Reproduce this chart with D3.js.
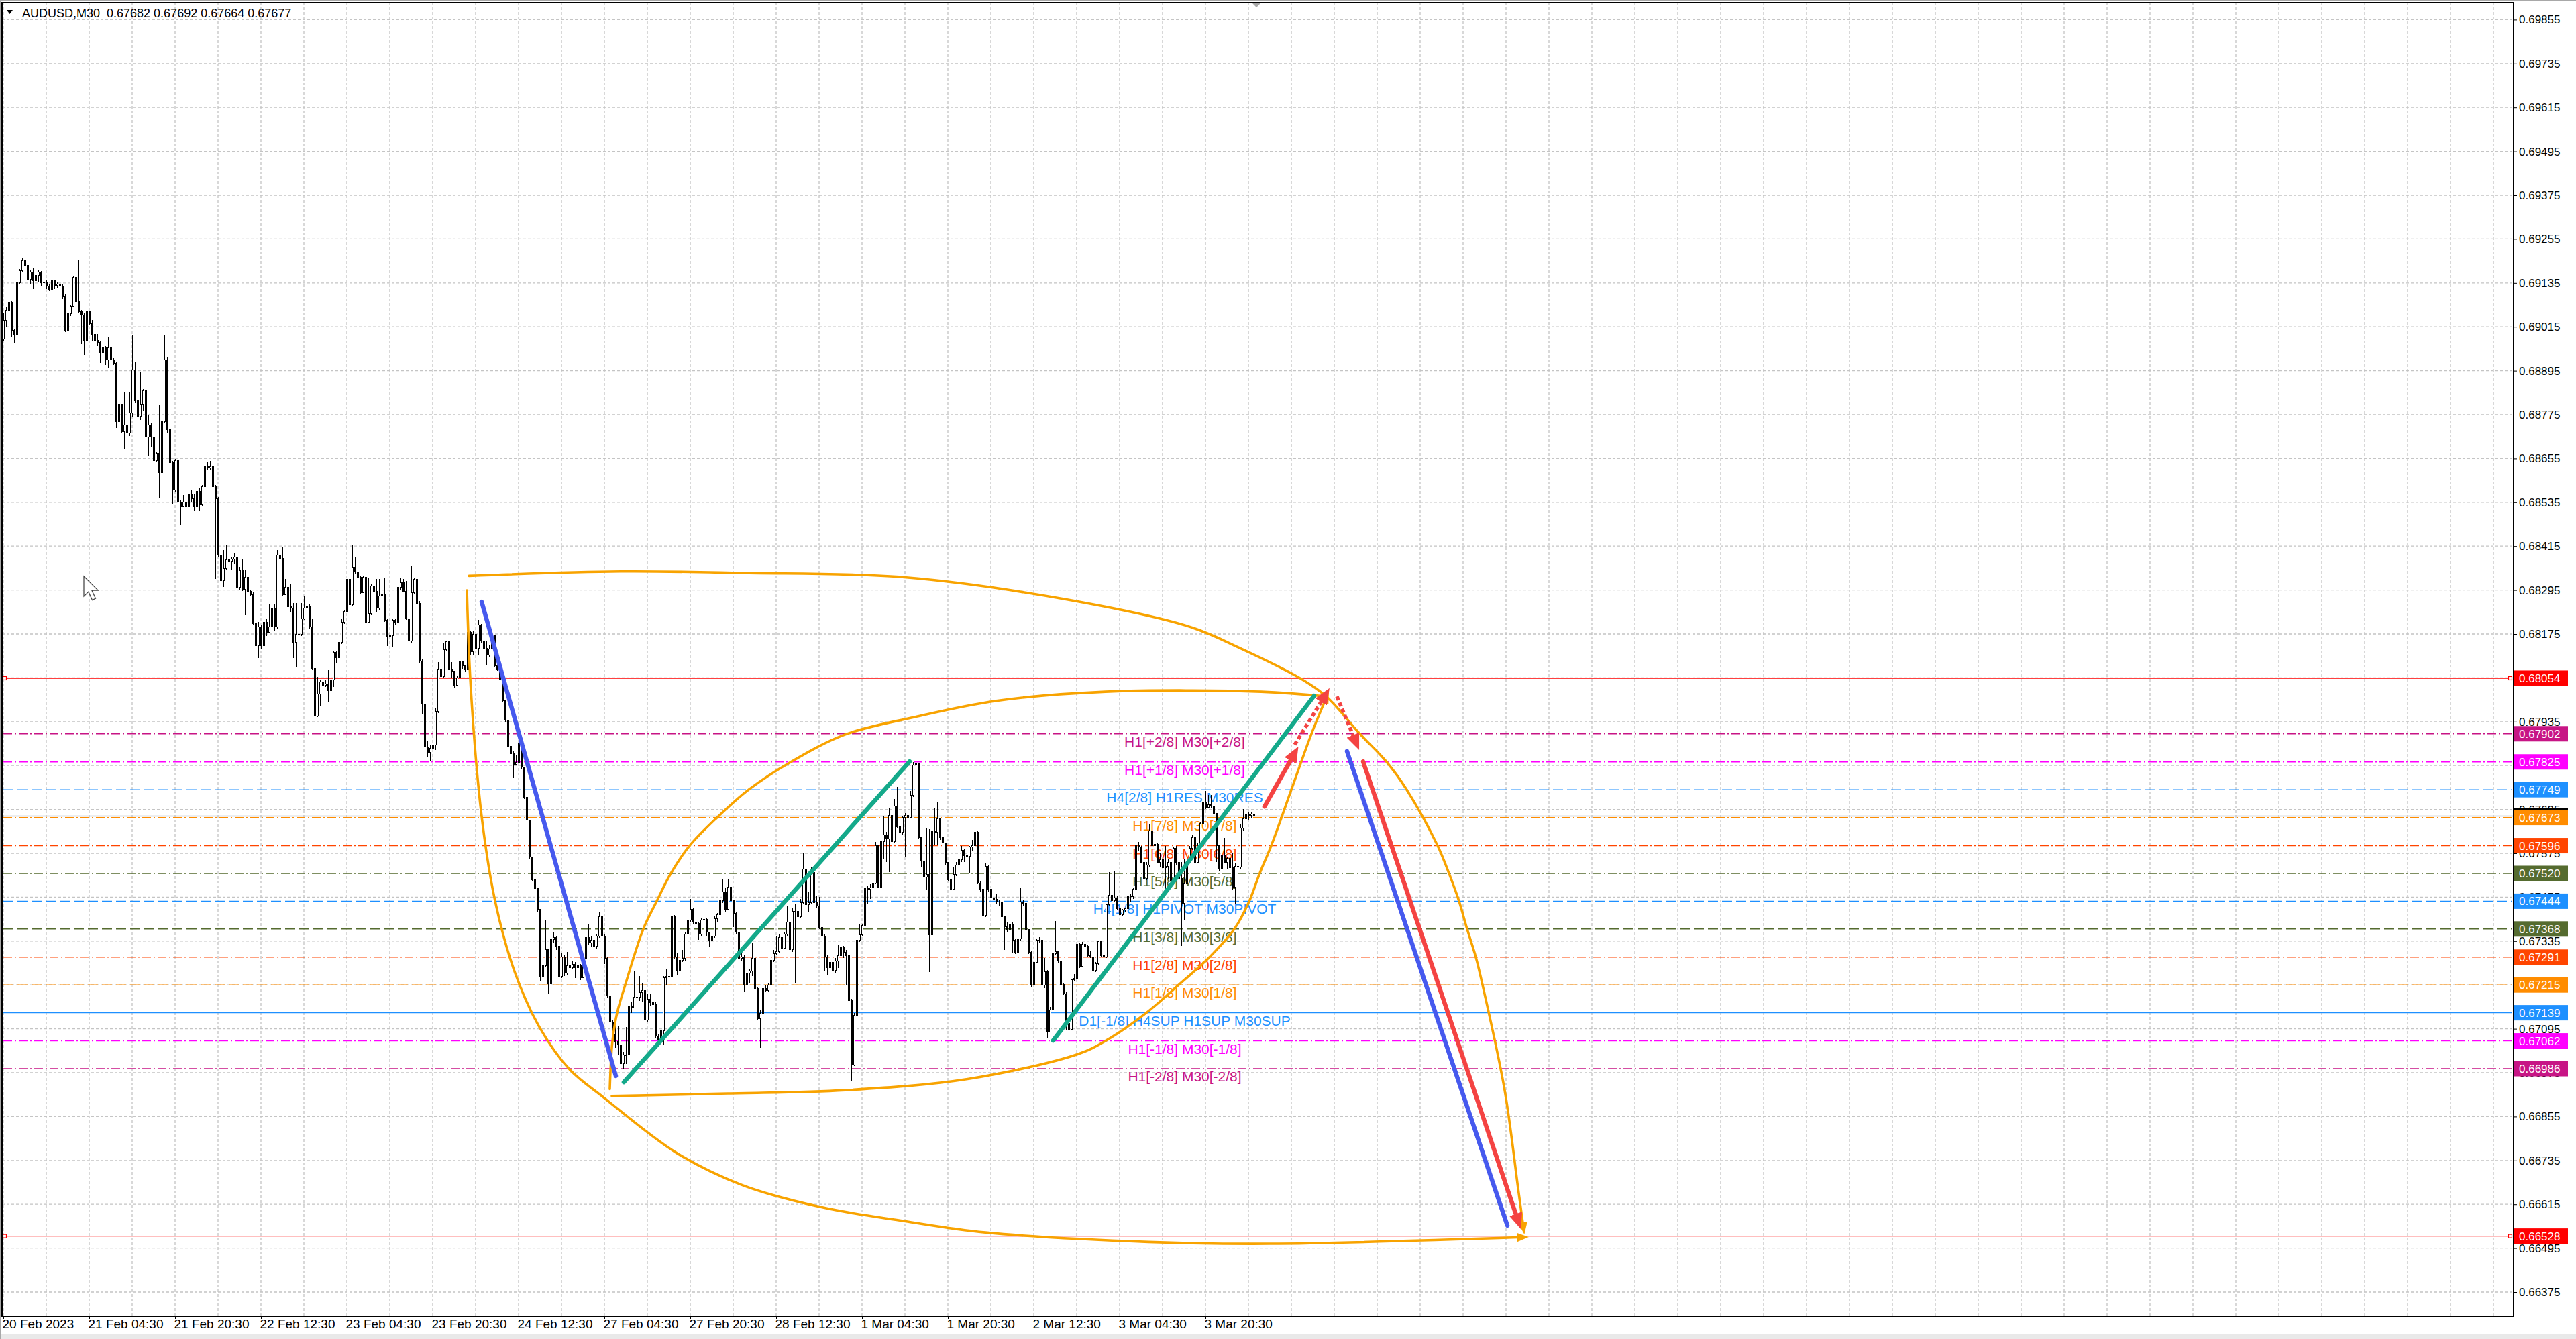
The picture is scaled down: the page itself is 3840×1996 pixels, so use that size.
<!DOCTYPE html>
<html>
<head>
<meta charset="utf-8">
<script src="https://d3js.org/d3.v7.min.js"></script>
<style>
html, body { margin: 0; padding: 0; background: #fff; overflow: hidden; }
svg { display: block; }
text { font-family: "Liberation Sans", Arial, sans-serif; }
</style>
</head>
<body>
<script>
const W = 3840, H = 1996;
const symbol = "AUDUSD,M30";

// * PRICE DATA (price x 1e5), one value per M30 bar
const firstOpen = 68981;
const closes = [
69033,69061,69082,69005,68995,69136,69169,69197,69183,69145,
69164,69141,69155,69164,69136,69138,69127,69117,69141,69129,
69131,69127,69099,69005,69052,69072,69150,69084,69056,69047,
68977,69056,69024,68995,68977,68972,68944,68958,68925,68958,
68925,68916,68756,68803,68728,68747,68724,68780,68897,68813,
68770,68803,68841,68714,68747,68714,68649,68667,68616,68756,
68925,68733,68644,68569,68649,68536,68522,68536,68522,68555,
68545,68522,68564,68529,68578,68633,68630,68633,68578,68545,
68391,68320,68353,68377,68372,68379,68386,68302,68349,68297,
68330,68292,68283,68203,68142,68194,68142,68208,68180,68194,
68245,68194,68391,68381,68283,68302,68250,68245,68152,68175,
68175,68217,68245,68250,68194,68081,67950,68011,68044,68034,
68039,68020,68049,68124,68109,68152,68208,68236,68325,68255,
68358,68344,68330,68288,68330,68208,68231,68306,68292,68245,
68278,68283,68213,68166,68170,68213,68208,68302,68316,68292,
68217,68156,68288,68325,68259,68100,67983,67866,67852,
67863,67872,67963,68079,68059,68131,68153,68079,68074,68035,
68055,68098,68088,68079,68179,68127,68175,68136,68199,68155,
68136,68117,68134,68170,68088,68079,68050,67992,67939,67867,
67848,67819,67824,67877,67810,67728,67666,67565,67503,67479,
67421,67239,67267,67311,67219,67339,67344,67320,67239,67291,
67248,67267,67263,67272,67263,67270,67234,67287,67344,67330,
67338,67320,67349,67402,67349,67287,67186,67114,67080,67061,
67051,66999,67023,67023,67157,67152,67181,67181,67195,67200,
67119,67176,67167,67162,67075,67066,67090,67234,67239,67239,
67402,67291,67253,67282,67287,67354,67392,67421,67387,67383,
67354,67392,67395,67359,67335,67349,67397,67407,67445,67469,
67421,67483,67445,67411,67359,67287,67291,67215,67248,67253,
67287,67205,67123,67138,67205,67200,67215,67282,67301,67306,
67344,67315,67354,67387,67311,67416,67416,67402,67440,67531,
67435,67440,67522,67440,67431,67373,67349,67291,67263,67277,
67255,67281,67296,67319,67304,67296,67172,66996,67131,67337,
67352,67378,67480,67476,67480,67494,67596,67483,67607,67626,
67614,67678,67607,67704,67648,67633,67674,67678,67674,67734,
67817,67820,67618,67554,67509,67517,67352,67637,67633,67670,
67618,67603,67551,67502,67476,67517,67543,67558,67584,67569,
67566,67592,67596,67633,67494,67476,67405,67539,67476,67453,
67450,67442,67442,67401,67375,67367,67382,67337,67304,67341,
67442,67438,67367,67304,67214,67277,67337,67337,67214,67251,
67086,67146,67300,67307,67281,67217,67191,67109,67094,67229,
67232,67326,67266,67326,67321,67296,67292,67255,67274,67333,
67296,67292,67435,67461,67446,67453,67423,67408,67420,67423,
67457,67457,67476,67596,67592,67551,67506,67543,67637,67596,
67599,67551,67558,67536,67539,67551,67498,67588,67551,67506,
67438,67491,67551,67588,67618,67551,67596,67656,67715,67700,
67708,67704,67685,67596,67532,67569,67551,67562,67536,67483,
67539,67537,67644,67670,67680,67678,67682,67677
];
const highs = [
69052,69068,69110,69087,69009,69141,69173,69203,69206,69192,
69172,69175,69173,69169,69168,69147,69143,69131,69145,69143,
69136,69138,69131,69103,69056,69075,69153,69150,69197,69061,
69052,69103,69056,69033,69014,68995,68977,69014,68963,68986,
68960,68930,68919,68859,68803,68838,68761,68838,68994,68920,
68855,68892,68845,68841,68775,68752,68742,68672,68803,68761,
68994,68932,68735,68649,68653,68663,68541,68555,68545,68592,
68569,68559,68581,68574,68583,68639,68644,68649,68637,68583,
68550,68409,68405,68419,68384,68386,68395,68391,68358,68379,
68349,68372,68297,68288,68208,68208,68199,68269,68217,68255,
68264,68255,68405,68478,68414,68325,68325,68311,68259,68259,
68208,68259,68278,68278,68255,68217,68320,68058,68049,68058,
68049,68077,68077,68128,68128,68161,68217,68241,68339,68334,
68419,68386,68349,68334,68334,68349,68330,68311,68330,68325,
68325,68302,68330,68217,68175,68217,68217,68339,68330,68325,
68320,68264,68363,68330,68330,68264,68105,67988,67884,
67872,67882,67973,68098,68083,68151,68157,68141,68098,68042,
68059,68122,68100,68088,68184,68184,68184,68242,68213,68203,
68237,68155,68146,68175,68165,68117,68088,68055,67992,67939,
67867,67853,67843,67896,67872,67810,67728,67666,67565,67536,
67455,67421,67272,67392,67311,67363,67359,67349,67330,67301,
67296,67306,67330,67282,67277,67277,67272,67291,67378,67383,
67349,67344,67354,67416,67407,67354,67291,67191,67119,67114,
67104,67056,67032,67099,67162,67167,67253,67200,67239,67219,
67205,67191,67191,67181,67167,67080,67099,67239,67258,67253,
67435,67407,67301,67320,67311,67359,67397,67450,67426,67421,
67387,67397,67399,67397,67354,67368,67402,67411,67503,67503,
67479,67503,67498,67445,67416,67363,67301,67296,67253,67258,
67330,67291,67210,67147,67277,67215,67219,67287,67311,67349,
67354,67325,67359,67431,67407,67426,67435,67407,67450,67575,
67541,67469,67536,67531,67459,67455,67383,67354,67296,67320,
67262,67289,67326,67326,67321,67311,67307,67176,67139,67345,
67382,67382,67547,67487,67491,67506,67607,67599,67689,67678,
67633,67700,67682,67723,67757,67670,67678,67685,67685,67745,
67824,67837,67820,67618,67554,67644,67641,67641,67700,67715,
67670,67626,67603,67551,67502,67536,67551,67573,67596,67588,
67573,67596,67611,67656,67637,67498,67476,67547,67543,67480,
67461,67465,67446,67442,67405,67386,67390,67386,67341,67345,
67480,67446,67438,67367,67307,67281,67341,67345,67337,67289,
67255,67154,67307,67390,67307,67285,67221,67195,67116,67232,
67244,67330,67330,67333,67330,67326,67307,67296,67277,67337,
67337,67319,67438,67524,67476,67528,67457,67427,67423,67427,
67461,67465,67480,67614,67607,67596,67554,67551,67656,67641,
67607,67603,67577,67596,67596,67558,67551,67592,67596,67551,
67551,67558,67554,67596,67626,67622,67603,67659,67723,67745,
67734,67734,67708,67685,67596,67573,67618,67566,67573,67577,
67547,67551,67656,67697,67697,67689,67689,67692
];
const lows = [
68977,69014,69056,68986,68969,68991,69131,69164,69173,69127,
69131,69119,69131,69136,69125,69127,69119,69113,69114,69119,
69122,69117,69091,69000,69003,69044,69068,69075,69052,68967,
68939,68967,69019,68977,68916,68963,68916,68948,68911,68902,
68878,68911,68738,68752,68724,68681,68714,68716,68770,68808,
68738,68761,68784,68712,68663,68686,68644,68647,68545,68602,
68752,68724,68639,68529,68564,68472,68475,68522,68513,68519,
68536,68513,68517,68513,68525,68575,68625,68625,68564,68325,
68386,68311,68304,68349,68330,68349,68367,68269,68297,68292,
68227,68283,68278,68199,68114,68109,68133,68138,68170,68180,
68189,68184,68189,68377,68278,68283,68203,68236,68109,68086,
68119,68170,68213,68222,68189,68077,67945,67947,67978,68030,
68030,67988,68020,68030,68095,68114,68147,68203,68236,68245,
68250,68339,68320,68285,68288,68189,68208,68227,68255,68236,
68241,68250,68208,68142,68161,68138,68199,68203,68297,68288,
68213,68058,68152,68283,68255,68095,67955,67861,67838,
67829,67848,67858,67959,68050,68055,68127,68074,68055,68028,
68032,68048,68079,68071,68071,68117,68117,68127,68117,68151,
68122,68088,68112,68131,68083,68074,68021,67987,67935,67800,
67829,67781,67815,67824,67805,67723,67661,67560,67498,67445,
67416,67224,67186,67263,67191,67215,67330,67311,67195,67234,
67239,67243,67253,67258,67234,67263,67229,67248,67282,67325,
67320,67287,67315,67344,67339,67272,67181,67109,67071,67042,
67023,66994,66984,66999,67018,67138,67152,67176,67171,67167,
67085,67114,67157,67138,67071,67061,67018,67051,67215,67138,
67224,67287,67243,67186,67277,67282,67349,67387,67383,67349,
67339,67349,67387,67349,67320,67330,67344,67387,67402,67440,
67416,67426,67440,67373,67354,67282,67282,67195,67210,67219,
67239,67200,67119,67042,67128,67195,67195,67205,67277,67296,
67301,67306,67315,67349,67301,67306,67219,67378,67397,67435,
67431,67416,67435,67435,67426,67368,67344,67253,67243,67239,
67236,67247,67262,67300,67289,67214,67169,66952,66993,67128,
67333,67348,67367,67438,67450,67438,67491,67480,67480,67558,
67551,67524,67603,67603,67644,67581,67626,67566,67667,67678,
67730,67798,67614,67536,67506,67476,67251,67348,67599,67599,
67611,67543,67543,67498,67453,67476,67513,67532,67551,67551,
67543,67521,67581,67592,67491,67468,67281,67401,67468,67442,
67438,67435,67431,67397,67311,67360,67356,67304,67300,67255,
67337,67431,67363,67300,67210,67210,67274,67330,67184,67206,
67068,67086,67143,67296,67274,67214,67187,67090,67086,67090,
67225,67232,67262,67266,67300,67292,67289,67244,67251,67270,
67292,67289,67289,67431,67442,67442,67420,67375,67405,67416,
67420,67442,67450,67472,67581,67547,67502,67502,67539,67551,
67581,67547,67536,67532,67476,67506,67491,67494,67543,67483,
67321,67393,67487,67547,67584,67547,67551,67592,67652,67697,
67704,67700,67682,67551,67528,67528,67547,67532,67532,67476,
67435,67532,67532,67637,67667,67667,67670,67664
];

// * AXES DATA
const timeTickBars = [0, 32, 64, 96, 128, 160, 192, 224, 256, 288, 320, 352, 384, 416, 448];
const timeLabels = ["20 Feb 2023", "21 Feb 04:30", "21 Feb 20:30", "22 Feb 12:30", "23 Feb 04:30",
	"23 Feb 20:30", "24 Feb 12:30", "27 Feb 04:30", "27 Feb 20:30", "28 Feb 12:30",
	"1 Mar 04:30", "1 Mar 20:30", "2 Mar 12:30", "3 Mar 04:30", "3 Mar 20:30"];
const priceTicks = [0.66375, 0.66495, 0.66615, 0.66735, 0.66855, 0.66975, 0.67095, 0.67215,
	0.67335, 0.67455, 0.67575, 0.67695, 0.67815, 0.67935, 0.68055, 0.68175, 0.68295,
	0.68415, 0.68535, 0.68655, 0.68775, 0.68895, 0.69015, 0.69135, 0.69255, 0.69375,
	0.69495, 0.69615, 0.69735, 0.69855];

// * MURREY LEVELS
const levelPrices = [0.68054, 0.67902, 0.67825, 0.67749, 0.67673, 0.67596, 0.67520, 0.67444,
	0.67368, 0.67291, 0.67215, 0.67139, 0.67062, 0.66986, 0.66528];
const levelLabels = ["", "H1[+2/8] M30[+2/8]", "H1[+1/8] M30[+1/8]", "H4[2/8] H1RES M30RES",
	"H1[7/8] M30[7/8]", "H1[6/8] M30[6/8]", "H1[5/8] M30[5/8]", "H4[1/8] H1PIVOT M30PIVOT",
	"H1[3/8] M30[3/8]", "H1[2/8] M30[2/8]", "H1[1/8] M30[1/8]", "D1[-1/8] H4SUP H1SUP M30SUP",
	"H1[-1/8] M30[-1/8]", "H1[-2/8] M30[-2/8]", ""];
const labelBar = 440.25;

// * DRAWN ANALYSIS ([bar, price])
const arcOuterTop = [[173.5,0.68334],[230,0.68346],[275,0.68342],[335.75,0.68330],[396.4,0.68269],
	[442,0.68195],[461.25,0.68135],[483.25,0.68054],[493,0.68004],[505.5,0.67902],[515.5,0.67825],
	[523,0.67749],[534.5,0.67596],[538.75,0.67520],[542.5,0.67444],[545.5,0.67368],[548.75,0.67291],
	[551.25,0.67215],[559.5,0.66927],[564.5,0.66659],[566.5,0.66551]];
const arcOuterBottom = [[172.75,0.68294],[174.25,0.68021],[178.25,0.67676],[183.25,0.67445],
	[190.5,0.67252],[199.75,0.67100],[211,0.66984],[223.75,0.66907],[251,0.66755],[275.25,0.66668],
	[305.5,0.66606],[335.75,0.66569],[366,0.66538],[426.75,0.66512],[472,0.66507],[566,0.66525]];
const arcInnerTop = [[226,0.66930],[227,0.67062],[228.75,0.67139],[231.75,0.67215],[238.5,0.67368],
	[243.5,0.67444],[248.75,0.67520],[255.75,0.67596],[266,0.67673],[277.75,0.67749],[293.5,0.67825],
	[313.75,0.67900],[339.25,0.67947],[370,0.67992],[410.75,0.68017],[468.75,0.68017],[493,0.68004]];
const arcInnerBottom = [[226.75,0.66911],[270,0.66918],[313.75,0.66927],[359.75,0.66958],
	[400.5,0.67026],[410.75,0.67062],[426,0.67139],[438,0.67215],[449.5,0.67291],[458.75,0.67368],
	[464.3,0.67444],[468.2,0.67520],[472.5,0.67596],[480,0.67749],[487.5,0.67902],[493,0.68000]];
const blueDown1 = [[178.25,0.68263],[228.25,0.66966]];
const tealUp1 = [[231.25,0.66949],[337.75,0.67826]];
const tealUp2 = [[391.25,0.67063],[488.5,0.68006]];
const redUp = [[470,0.67703],[481,0.67846]];
const redDotUp = [[481.25,0.67872],[492.5,0.68006]];
const redDotDown = [[497,0.68004],[504,0.67880]];
const blueDown2 = [[500.75,0.67854],[560.5,0.66557]];
const redDown = [[506.75,0.67826],[564.5,0.66570]];

// * SVG BASE SETUP
const plotL = 3, plotT = 4, plotR = 3747, plotB = 1962;
const svg = d3.select("body").append("svg").attr("width", W).attr("height", H);
svg.append("rect").attr("width", W).attr("height", H).attr("fill", "#fff");
svg.append("rect").attr("x", 0).attr("y", H - 7).attr("width", W).attr("height", 7).attr("fill", "#e9e9e9");
svg.append("rect").attr("x", 0).attr("y", 0).attr("width", W).attr("height", 1.5).attr("fill", "#a8a8a8");
svg.append("rect").attr("x", 0).attr("y", 0).attr("width", 1.5).attr("height", H).attr("fill", "#a8a8a8");

// * SCALES
const xScale = d3.scaleLinear().domain([0, 935.5]).range([5, plotR]);
const yScale = d3.scaleLinear().domain([0.66375, 0.69855]).range([1926, 29.4]);

const defs = svg.append("defs");
defs.append("clipPath").attr("id", "plot").append("rect")
	.attr("x", plotL).attr("y", plotT).attr("width", plotR - plotL).attr("height", plotB - plotT);

function arrowMarker(id, color, len, wid) {
	defs.append("marker").attr("id", id)
		.attr("markerUnits", "userSpaceOnUse")
		.attr("viewBox", `0 0 ${len} ${wid}`)
		.attr("refX", len * 0.45).attr("refY", wid / 2)
		.attr("markerWidth", len).attr("markerHeight", wid)
		.attr("orient", "auto")
		.append("path").attr("d", `M0,0L${len},${wid / 2}L0,${wid}Z`).attr("fill", color);
}
arrowMarker("arRed", "#F44342", 24, 20);
arrowMarker("arOrange", "#F8A300", 18, 14);

const plot = svg.append("g").attr("clip-path", "url(#plot)");

// * GRID
const gridBars = d3.range(0, 936, 16);
plot.append("g").selectAll("line").data(gridBars).enter().append("line")
	.attr("x1", (d) => xScale(d)).attr("x2", (d) => xScale(d))
	.attr("y1", plotT).attr("y2", plotB)
	.attr("stroke", "#c4c4c4").attr("stroke-width", 1.3).attr("stroke-dasharray", "4,3");
plot.append("g").selectAll("line").data(priceTicks).enter().append("line")
	.attr("x1", plotL).attr("x2", plotR)
	.attr("y1", (d) => yScale(d)).attr("y2", (d) => yScale(d))
	.attr("stroke", "#c4c4c4").attr("stroke-width", 1.3).attr("stroke-dasharray", "4,3");

// * LEVEL LINES
const DASHDOT = "13,4,2,4", DASH = "15,6";
const levelStyles = [
	{ c: "#FF0000", d: null }, { c: "#C71585", d: DASHDOT }, { c: "#FF00FF", d: DASHDOT },
	{ c: "#1E90FF", d: DASH }, { c: "#FF8C00", d: DASHDOT }, { c: "#FF4500", d: DASHDOT },
	{ c: "#556B2F", d: DASHDOT }, { c: "#1E90FF", d: DASH }, { c: "#556B2F", d: DASH },
	{ c: "#FF4500", d: DASHDOT }, { c: "#FF8C00", d: DASH }, { c: "#1E90FF", d: null },
	{ c: "#FF00FF", d: DASHDOT }, { c: "#C71585", d: DASHDOT }, { c: "#FF0000", d: null }
];
const lastClose = closes[closes.length - 1] / 1e5;
plot.append("line").attr("x1", plotL).attr("x2", plotR)
	.attr("y1", yScale(lastClose)).attr("y2", yScale(lastClose))
	.attr("stroke", "#bdbdbd").attr("stroke-width", 1.5);

const levels = plot.append("g");
levels.selectAll("line").data(levelPrices).enter().append("line")
	.attr("x1", 5).attr("x2", 3744)
	.attr("y1", (d) => yScale(d)).attr("y2", (d) => yScale(d))
	.attr("stroke", (d, i) => levelStyles[i].c)
	.attr("stroke-width", 1.4)
	.attr("stroke-dasharray", (d, i) => levelStyles[i].d);
// small end squares on the two red lines
levelPrices.forEach((p, i) => {
	if (levelLabels[i] !== "") return;
	[7, 3742].forEach((x) => {
		levels.append("rect").attr("x", x - 2.5).attr("y", yScale(p) - 2.5)
			.attr("width", 5).attr("height", 5)
			.attr("fill", "#fff").attr("stroke", levelStyles[i].c).attr("stroke-width", 1.2);
	});
});
levelPrices.forEach((p, i) => {
	if (levelLabels[i] === "") return;
	levels.append("text")
		.attr("x", xScale(labelBar))
		.attr("y", yScale(p) + 19)
		.attr("text-anchor", "middle")
		.attr("font-size", 21)
		.attr("fill", levelStyles[i].c)
		.text(levelLabels[i]);
});

// * CANDLES
const bars = closes.map((c, i) => {
	const o = i === 0 ? firstOpen : closes[i - 1];
	return {
		i: i,
		o: o / 1e5,
		c: c / 1e5,
		h: Math.max(highs[i], o, c) / 1e5,
		l: Math.min(lows[i], o, c) / 1e5
	};
});
const candles = plot.append("g").attr("shape-rendering", "crispEdges");
candles.selectAll("line").data(bars).enter().append("line")
	.attr("x1", (d) => xScale(d.i) + 0.5).attr("x2", (d) => xScale(d.i) + 0.5)
	.attr("y1", (d) => yScale(d.h)).attr("y2", (d) => yScale(d.l))
	.attr("stroke", "#000").attr("stroke-width", 1);
candles.selectAll("rect").data(bars).enter().append("rect")
	.attr("x", (d) => xScale(d.i) - 0.5)
	.attr("y", (d) => yScale(Math.max(d.o, d.c)))
	.attr("width", 2)
	.attr("height", (d) => Math.max(0.5, Math.abs(yScale(d.o) - yScale(d.c))))
	.attr("fill", (d) => (d.c >= d.o ? "#fff" : "#000"))
	.attr("stroke", "#000").attr("stroke-width", 1);

// * ANALYSIS OVERLAY
const smooth = d3.line().x((d) => xScale(d[0])).y((d) => yScale(d[1])).curve(d3.curveCatmullRom.alpha(0.5));
const straight = d3.line().x((d) => xScale(d[0])).y((d) => yScale(d[1]));
const ov = plot.append("g").attr("fill", "none");

[arcOuterTop, arcOuterBottom, arcInnerTop, arcInnerBottom].forEach((pts, k) => {
	ov.append("path").attr("d", smooth(pts))
		.attr("stroke", "#F8A300").attr("stroke-width", 3.6)
		.attr("stroke-linecap", "round")
		.attr("marker-end", k === 2 ? null : "url(#arOrange)");
});
[[blueDown1, "#4659EE"], [tealUp1, "#14A98A"], [tealUp2, "#14A98A"], [blueDown2, "#4659EE"]]
	.forEach(([pts, col]) => {
		ov.append("path").attr("d", straight(pts))
			.attr("stroke", col).attr("stroke-width", 6.5).attr("stroke-linecap", "round");
	});
ov.append("path").attr("d", straight(redUp))
	.attr("stroke", "#F44342").attr("stroke-width", 6.5).attr("stroke-linecap", "round")
	.attr("marker-end", "url(#arRed)");
ov.append("path").attr("d", straight(redDown))
	.attr("stroke", "#F44342").attr("stroke-width", 6.5).attr("stroke-linecap", "round")
	.attr("marker-end", "url(#arRed)");
[redDotUp, redDotDown].forEach((pts) => {
	ov.append("path").attr("d", straight(pts))
		.attr("stroke", "#F44342").attr("stroke-width", 5.5).attr("stroke-dasharray", "6,4")
		.attr("marker-end", "url(#arRed)");
});

// * FRAME AND AXES
svg.append("rect").attr("x", plotL).attr("y", plotT)
	.attr("width", plotR - plotL).attr("height", plotB - plotT)
	.attr("fill", "none").attr("stroke", "#000").attr("stroke-width", 2);

const yAxis = d3.axisRight(yScale).tickValues(priceTicks)
	.tickFormat(d3.format(".5f")).tickSize(5).tickPadding(3);
const yG = svg.append("g").attr("transform", `translate(${plotR},0)`).call(yAxis);
yG.select(".domain").remove();
yG.selectAll("text").attr("font-size", 17).attr("font-family", "Liberation Sans, Arial, sans-serif").attr("fill", "#000");

const xAxis = d3.axisBottom(xScale).tickValues(timeTickBars)
	.tickFormat((d, i) => timeLabels[i]).tickSize(4).tickPadding(1);
const xG = svg.append("g").attr("transform", `translate(0,${plotB})`).call(xAxis);
xG.select(".domain").remove();
xG.selectAll("text").attr("font-size", 19).attr("text-anchor", "start").attr("x", -2)
	.attr("font-family", "Liberation Sans, Arial, sans-serif").attr("fill", "#000");

// * PRICE TAGS ON THE RIGHT AXIS
const tags = svg.append("g");
function tag(price, color) {
	const yy = yScale(price);
	tags.append("rect").attr("x", plotR + 1).attr("y", yy - 11.5)
		.attr("width", 80).attr("height", 23).attr("fill", color);
	tags.append("text").attr("x", plotR + 8).attr("y", yy).attr("dy", "0.35em")
		.attr("font-size", 17).attr("fill", "#fff").text(d3.format(".5f")(price));
}
tag(lastClose, "#000");
levelPrices.forEach((p, i) => tag(p, levelStyles[i].c));

// * HEADER, SHIFT MARK, CURSOR
const last = bars[bars.length - 1];
svg.append("path").attr("d", "M10,15L19,15L14.5,21Z").attr("fill", "#000");
svg.append("text").attr("x", 33).attr("y", 26).attr("font-size", 18).attr("fill", "#000")
	.style("white-space", "pre")
	.text(`${symbol}  ${[last.o, last.h, last.l, last.c].map(d3.format(".5f")).join(" ")}`);
const shiftX = xScale(bars.length);
svg.append("path").attr("d", `M${shiftX - 7},${plotT}L${shiftX + 7},${plotT}L${shiftX},${plotT + 7}Z`).attr("fill", "#a8a8a8");
svg.append("path")
	.attr("transform", "translate(125,859) scale(1.25)")
	.attr("d", "M0,0L0,24L5.5,18.5L10,28.5L14,26.5L9.5,16.8L17,16.8Z")
	.attr("fill", "#fff").attr("stroke", "#444").attr("stroke-width", 1);
</script>
</body>
</html>
